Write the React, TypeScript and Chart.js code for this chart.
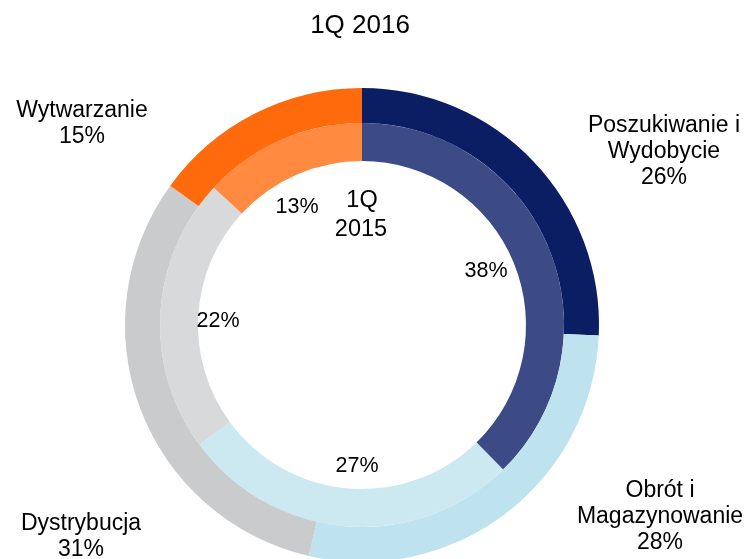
import React, { useEffect, useRef } from "react";
import { Chart, registerables } from "chart.js";

Chart.register(...registerables);

const categories = [
  "Poszukiwanie i Wydobycie",
  "Obrót i Magazynowanie",
  "Dystrybucja",
  "Wytwarzanie",
];
const outerLabelLines = [
  ["Poszukiwanie i", "Wydobycie"],
  ["Obrót i", "Magazynowanie"],
  ["Dystrybucja"],
  ["Wytwarzanie"],
];
const values2016 = [25.7, 27.9, 31.4, 15.0];
const values2015 = [37.7, 27.2, 22.0, 13.1];
const title2016 = "1Q 2016";
const centerLabel2015 = ["1Q", "2015"];

const outerColors = ["#0B1E64", "#BEE3EE", "#CACBCD", "#FF6A0D"];
const innerColors = ["#3C4A86", "#CCE8F0", "#D8D9DB", "#FF8A40"];

// text anchor positions (center x, first baseline y)
const outerLabelPos = [
  { x: 664, y: 132 },
  { x: 660, y: 497 },
  { x: 81, y: 530 },
  { x: 82, y: 117 },
];
const innerLabelPos = [
  { x: 486, y: 277 },
  { x: 357, y: 472 },
  { x: 218, y: 327 },
  { x: 297, y: 213 },
];

const FONT = "'Liberation Sans', Arial, sans-serif";

const textPlugin = {
  id: "textLabels",
  afterDraw(chart: any) {
    const ctx = chart.ctx as CanvasRenderingContext2D;
    ctx.save();
    ctx.fillStyle = "#000";
    ctx.textAlign = "center";
    ctx.textBaseline = "alphabetic";

    ctx.font = `26px ${FONT}`;
    ctx.fillText(title2016, 360, 33);

    ctx.font = `23.5px ${FONT}`;
    ctx.fillText(centerLabel2015[0], 362, 207);
    ctx.fillText(centerLabel2015[1], 361, 236);

    ctx.font = `23px ${FONT}`;
    outerLabelLines.forEach((lines, i) => {
      const p = outerLabelPos[i];
      const all = [...lines, `${Math.round(values2016[i])}%`];
      all.forEach((t, j) => ctx.fillText(t, p.x, p.y + j * 26));
    });

    ctx.font = `21.5px ${FONT}`;
    values2015.forEach((v, i) => {
      const p = innerLabelPos[i];
      ctx.fillText(`${Math.round(v)}%`, p.x, p.y);
    });
    ctx.restore();
  },
};

export default function App() {
  const ref = useRef<HTMLCanvasElement>(null);
  useEffect(() => {
    if (!ref.current) return;
    const chart = new Chart(ref.current, {
      type: "doughnut",
      data: {
        labels: categories,
        datasets: [
          {
            label: "1Q 2016",
            data: values2016,
            backgroundColor: outerColors,
            borderWidth: 0,
            weight: 35,
          },
          {
            label: "1Q 2015",
            data: values2015,
            backgroundColor: innerColors,
            borderWidth: 0,
            weight: 38,
          },
        ],
      },
      options: {
        responsive: false,
        animation: false,
        devicePixelRatio: 1,
        events: [],
        radius: 237,
        cutout: `${(164 / 237) * 100}%`,
        layout: { padding: { left: 0, right: 24, top: 0, bottom: 0 } },
        plugins: {
          legend: { display: false },
          tooltip: { enabled: false },
          title: { display: false },
        },
      } as any,
      plugins: [textPlugin],
    });
    return () => chart.destroy();
  }, []);

  return (
    <div
      style={{
        position: "fixed",
        left: 0,
        top: 0,
        width: 748,
        height: 559,
        overflow: "hidden",
        background: "#fff",
      }}
    >
      <canvas
        ref={ref}
        width={748}
        height={650}
        style={{ display: "block", width: 748, height: 650 }}
      />
    </div>
  );
}
